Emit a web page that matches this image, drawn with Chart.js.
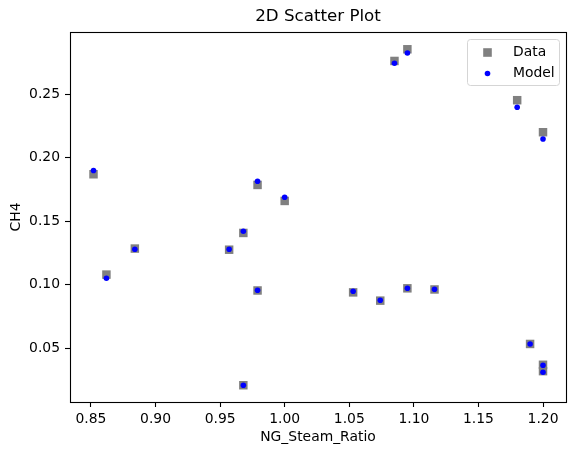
<!DOCTYPE html>
<html><head><meta charset="utf-8">
<script src="https://cdn.jsdelivr.net/npm/chart.js@4.4.0/dist/chart.umd.min.js"></script>
<style>html,body{margin:0;padding:0;background:#fff;}#wrap{width:576px;height:455px;}</style>
</head><body><div id="wrap"><canvas id="c" width="576" height="455"></canvas></div>
<script>
const chartTitle = '2D Scatter Plot';
const xLabel = 'NG_Steam_Ratio';
const yLabel = 'CH4';
const seriesNames = ['Data', 'Model'];
const ratio    = [0.852, 0.862, 0.884, 0.957, 0.968, 0.968, 0.979, 0.979, 1.000, 1.053, 1.074, 1.085, 1.095, 1.095, 1.116, 1.180, 1.190, 1.200, 1.200, 1.200];
const ch4Data  = [0.187, 0.108, 0.1285, 0.1276, 0.1408, 0.0209, 0.1786, 0.0955, 0.166, 0.094, 0.0875, 0.2762, 0.2854, 0.0972, 0.0963, 0.2453, 0.0534, 0.2201, 0.037, 0.032];
const ch4Model = [0.190, 0.1051, 0.128, 0.128, 0.1421, 0.0209, 0.1815, 0.0957, 0.1689, 0.0949, 0.0878, 0.2744, 0.2825, 0.0972, 0.0965, 0.2398, 0.0534, 0.2148, 0.0366, 0.0311];
const xTicks = [0.85, 0.90, 0.95, 1.00, 1.05, 1.10, 1.15, 1.20];
const yTicks = [0.05, 0.10, 0.15, 0.20, 0.25];

const FONT = 'DejaVu Sans';
const toPts = (xs, ys) => xs.map((x, i) => ({x: x, y: ys[i]}));

const framePlugin = {
  id: 'frame',
  afterDatasetsDraw(chart) {
    const {ctx, chartArea: a} = chart;
    ctx.save();
    ctx.strokeStyle = '#000';
    ctx.lineWidth = 1.1;
    ctx.strokeRect(Math.round(a.left) + 0.5, Math.round(a.top) + 0.5, Math.round(a.right - a.left), Math.round(a.bottom - a.top));
    ctx.restore();
  },
  afterDraw(chart) {
    const {ctx, chartArea: a} = chart;
    ctx.save();
    // title
    ctx.fillStyle = '#000';
    ctx.font = '16.7px "' + FONT + '"';
    ctx.textAlign = 'center';
    ctx.textBaseline = 'middle';
    ctx.fillText(chartTitle, (a.left + a.right) / 2, 17);
    // legend
    const lx = a.right - 98.5, ly = a.top + 7.5, lw = 92, lh = 46, r = 3;
    ctx.beginPath();
    ctx.moveTo(lx + r, ly);
    ctx.arcTo(lx + lw, ly, lx + lw, ly + lh, r);
    ctx.arcTo(lx + lw, ly + lh, lx, ly + lh, r);
    ctx.arcTo(lx, ly + lh, lx, ly, r);
    ctx.arcTo(lx, ly, lx + lw, ly, r);
    ctx.closePath();
    ctx.fillStyle = 'rgba(255,255,255,0.8)';
    ctx.fill();
    ctx.strokeStyle = '#d5d5d5';
    ctx.lineWidth = 1;
    ctx.stroke();
    const ds = chart.data.datasets;
    const mx = lx + 20, rows = [ly + 13, ly + 34];
    ds.forEach((d, i) => {
      const y = rows[i];
      ctx.fillStyle = d.backgroundColor;
      if (d.pointStyle === 'rect') {
        ctx.fillRect(mx - 4.3, y - 4.3, 8.6, 8.6);
      } else {
        ctx.beginPath(); ctx.arc(mx, y, 2.8, 0, Math.PI * 2); ctx.fill();
      }
      ctx.fillStyle = '#000';
      ctx.font = '13.9px "' + FONT + '"';
      ctx.textAlign = 'left';
      ctx.textBaseline = 'middle';
      ctx.fillText(d.label, lx + 45.5, y);
    });
    ctx.restore();
  }
};

new Chart(document.getElementById('c'), {
  type: 'scatter',
  data: {
    datasets: [
      {label: seriesNames[0], data: toPts(ratio, ch4Data), backgroundColor: '#808080', pointStyle: 'rect', pointRadius: 6, pointBorderWidth: 0, order: 1},
      {label: seriesNames[1], data: toPts(ratio, ch4Model), backgroundColor: '#0000ff', pointStyle: 'circle', pointRadius: 2.8, pointBorderWidth: 0, order: 0}
    ]
  },
  options: {
    responsive: false,
    animation: false,
    events: [],
    layout: {padding: {left: 0, right: 10, top: 32, bottom: 0}},
    plugins: {legend: {display: false}, title: {display: false}, tooltip: {enabled: false}},
    scales: {
      x: {
        type: 'linear', min: 0.8338, max: 1.2178,
        afterBuildTicks: s => { s.ticks = xTicks.map(v => ({value: v})); },
        afterFit: s => { s.height = 53; },
        grid: {display: true, drawOnChartArea: false, drawTicks: true, tickLength: 5, tickColor: '#000', tickWidth: 1.1},
        border: {display: false},
        ticks: {color: '#000', padding: 4, maxRotation: 0, autoSkip: false, font: {family: FONT, size: 13.9}, callback: v => v.toFixed(2)},
        title: {display: true, text: xLabel, color: '#000', font: {family: FONT, size: 13.9}, padding: {top: 0, bottom: 9}}
      },
      y: {
        type: 'linear', min: 0.0077, max: 0.299,
        afterBuildTicks: s => { s.ticks = yTicks.map(v => ({value: v})); },
        afterFit: s => { s.width = 70; },
        grid: {display: true, drawOnChartArea: false, drawTicks: true, tickLength: 5, tickColor: '#000', tickWidth: 1.1},
        border: {display: false},
        ticks: {color: '#000', padding: 5, autoSkip: false, font: {family: FONT, size: 13.9}, callback: v => v.toFixed(2)},
        title: {display: true, text: yLabel, color: '#000', font: {family: FONT, size: 13.9}, padding: {top: 8, bottom: 0}}
      }
    }
  },
  plugins: [framePlugin]
});
</script>
</body></html>
